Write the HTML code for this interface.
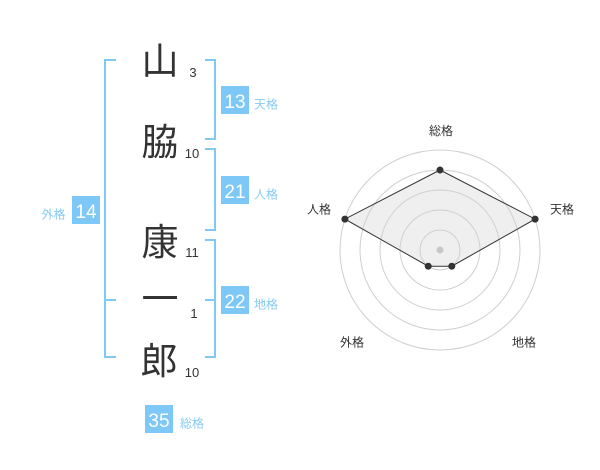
<!DOCTYPE html>
<html><head><meta charset="utf-8"><style>
html,body{margin:0;padding:0;background:#fff;}
body{width:600px;height:470px;overflow:hidden;}
svg{display:block;}
.k{font-family:"Liberation Sans","Noto Sans CJK JP",sans-serif;font-size:37px;fill:#333;}
.n{font-family:"Liberation Sans",sans-serif;font-size:13px;fill:#333;}
.b{font-family:"Liberation Sans",sans-serif;font-size:19px;fill:#fff;}
.l{font-family:"Liberation Sans","Noto Sans CJK JP",sans-serif;font-size:12px;fill:#86cbf5;}
.r{font-family:"Liberation Sans","Noto Sans CJK JP",sans-serif;font-size:12px;fill:#333;}
</style></head><body>
<svg width="600" height="470" viewBox="0 0 600 470" xmlns="http://www.w3.org/2000/svg">
<!-- brackets -->
<g fill="none" stroke="#80c8f6" stroke-width="2">
<path d="M116,60 H105 V357 H116"/>
<path d="M105,300 H116"/>
<path d="M205,60 H215 V139 H205"/>
<path d="M205,149 H215 V230 H205"/>
<path d="M205,240 H215 V357 H205"/>
<path d="M205,300 H215"/>
</g>
<!-- kanji -->
<text class="k" x="160" y="74" text-anchor="middle">山</text>
<text class="k" x="160" y="155" text-anchor="middle">脇</text>
<text class="k" x="160" y="255" text-anchor="middle">康</text>
<text class="k" x="160" y="312" text-anchor="middle">一</text>
<text class="k" x="159" y="374" text-anchor="middle">郎</text>
<!-- stroke counts -->
<text class="n" x="193" y="77" text-anchor="middle">3</text>
<text class="n" x="192" y="158" text-anchor="middle">10</text>
<text class="n" x="192" y="257" text-anchor="middle">11</text>
<text class="n" x="194" y="318" text-anchor="middle">1</text>
<text class="n" x="192" y="377" text-anchor="middle">10</text>
<!-- boxes -->
<g fill="#7ec8f7">
<rect x="221" y="86" width="28" height="28"/>
<rect x="221" y="176" width="28" height="28"/>
<rect x="221" y="286" width="28" height="28"/>
<rect x="72" y="196" width="28" height="28"/>
<rect x="145" y="405" width="28" height="28"/>
</g>
<text class="b" x="235" y="108" text-anchor="middle">13</text>
<text class="b" x="235" y="198" text-anchor="middle">21</text>
<text class="b" x="235" y="308" text-anchor="middle">22</text>
<text class="b" x="86" y="218" text-anchor="middle">14</text>
<text class="b" x="159" y="427" text-anchor="middle">35</text>
<text class="l" x="254" y="108.5">天格</text>
<text class="l" x="254" y="198.5">人格</text>
<text class="l" x="254" y="308.5">地格</text>
<text class="l" x="41.5" y="218.5">外格</text>
<text class="l" x="180" y="427.5">総格</text>
<!-- radar -->
<g fill="none" stroke="#cfcfcf" stroke-width="1">
<circle cx="440" cy="250" r="20"/>
<circle cx="440" cy="250" r="40"/>
<circle cx="440" cy="250" r="60"/>
<circle cx="440" cy="250" r="80"/>
<circle cx="440" cy="250" r="100"/>
</g>
<polygon points="440,170 535.1,219.1 451.8,266.2 428.2,266.2 344.9,219.1" fill="rgba(210,210,210,0.35)" stroke="#333" stroke-width="1"/>
<circle cx="440" cy="250" r="3.5" fill="#c8c8c8"/>
<g fill="#333">
<circle cx="440" cy="170" r="3.5"/>
<circle cx="535.1" cy="219.1" r="3.5"/>
<circle cx="451.8" cy="266.2" r="3.5"/>
<circle cx="428.2" cy="266.2" r="3.5"/>
<circle cx="344.9" cy="219.1" r="3.5"/>
</g>
<text class="r" x="441" y="135" text-anchor="middle">総格</text>
<text class="r" x="562" y="213.5" text-anchor="middle">天格</text>
<text class="r" x="319" y="213.5" text-anchor="middle">人格</text>
<text class="r" x="352" y="346.5" text-anchor="middle">外格</text>
<text class="r" x="524" y="346.5" text-anchor="middle">地格</text>
</svg>
</body></html>
